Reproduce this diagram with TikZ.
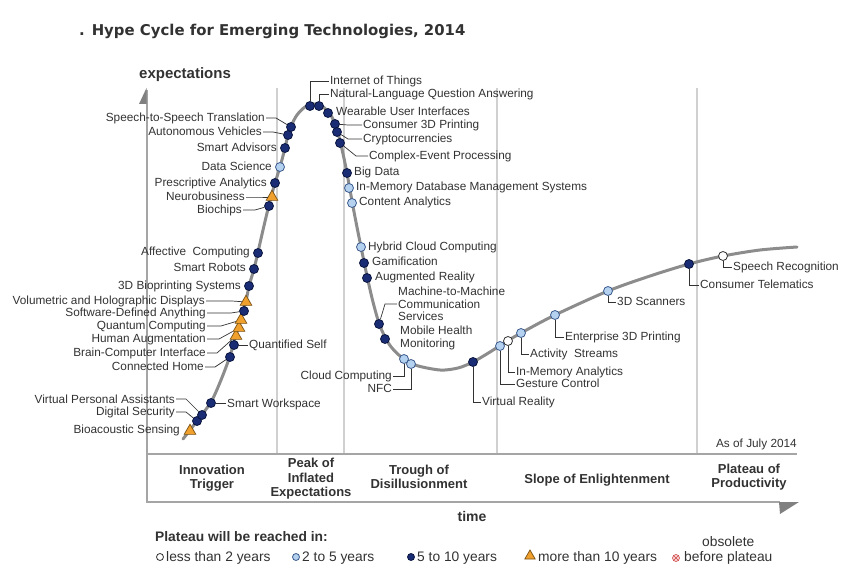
\documentclass[tikz,border=0pt]{standalone}
\usepackage{fontspec}
\setmainfont{Liberation Sans}
\newfontfamily\titlefont{DejaVu Sans}
\usepackage{tikz}
\usetikzlibrary{shapes.geometric}
\usepackage{xcolor}
\definecolor{navy}{RGB}{26,44,116}
\definecolor{navyrim}{RGB}{10,22,64}
\definecolor{sky}{RGB}{180,210,240}
\definecolor{skyrim}{RGB}{60,90,140}
\definecolor{amber}{RGB}{240,160,44}
\definecolor{amberrim}{RGB}{120,80,20}
\definecolor{rose}{RGB}{248,214,214}
\definecolor{roserim}{RGB}{208,70,70}
\definecolor{ink}{RGB}{50,50,50}
\definecolor{curvegrey}{RGB}{140,140,140}
\definecolor{axisgrey}{RGB}{165,165,165}
\definecolor{gridgrey}{RGB}{208,208,208}

\begin{document}
\begin{tikzpicture}[x=1pt, y=-1pt,
    tag/.style={text=ink, inner sep=1pt, font=\fontsize{11.8}{12.5}\selectfont},
    lbl/.style={tag, text height=9pt, text depth=1pt},
    leader/.style={draw=ink, line width=0.7pt},
    dot/.style={circle, inner sep=0pt, minimum size=9pt, line width=0.8pt},
    late/.style={dot, fill=navy, draw=navyrim},    % 5 to 10 years
    mid/.style={dot, fill=sky, draw=skyrim},       % 2 to 5 years
    soon/.style={dot, fill=white, draw=ink},       % less than 2 years
    far/.style={regular polygon, regular polygon sides=3, inner sep=0pt,
        minimum size=13.5pt, fill=amber, draw=amberrim, line width=0.7pt},
    gone/.style={dot, minimum size=7pt, fill=rose, draw=roserim, line width=0.6pt},
    phase/.style={text=ink, align=center, font=\bfseries\fontsize{13}{14.5}\selectfont},
    key/.style={text=ink, inner sep=1pt, anchor=west, font=\fontsize{13.8}{15}\selectfont},
    keyline/.style={key, text height=10.5pt, text depth=1pt}]
    \useasboundingbox (0,0) rectangle (860,585);

    % frame
    \foreach \x in {277,344,497,697}
        \draw[gridgrey, line width=1.2pt] (\x,88) -- (\x,454);
    \draw[axisgrey, line width=1.5pt] (147,90) -- (147,502) -- (780,502);
    \draw[axisgrey, line width=1.5pt] (147,454) -- (797,454);
    \fill[gray] (146.5,88) -- (146.5,104) -- (139,104) -- cycle;
    \fill[gray] (799,502) -- (779,502) -- (780,514) -- cycle;

    \node[anchor=base west, inner sep=0pt, text=ink,
        font=\titlefont\bfseries\fontsize{14.9}{18}\selectfont] (title) at (79,36)
        {. Hype Cycle for Emerging Technologies, 2014};
    \node[anchor=base west, inner sep=0pt, text=ink,
        font=\bfseries\fontsize{15}{18}\selectfont] (ylabel) at (139,79) {expectations};
    \node[anchor=base, inner sep=0pt, text=ink,
        font=\bfseries\fontsize{14}{16}\selectfont] (xlabel) at (472,521) {time};
    \node[lbl, anchor=east] (asof) at (798,443) {As of July 2014};

    % the hype curve
    \draw[curvegrey, line width=3pt, line cap=round] plot[smooth, tension=0.5] coordinates {
        (183,439) (197,421) (211,402) (221,380) (230,356) (236,335) (241,318)
        (246,301) (249,286) (254,269) (258,252) (263,230) (269,205) (275,183)
        (280,167) (285,148) (288,135) (291,126) (297,115) (305,107) (314,104)
        (322,106) (330,114) (336,126) (341,145) (346,168) (350,190) (355,217)
        (361,247) (367,276) (373,302) (380,326) (389,344) (400,356) (415,365)
        (440,370) (458,368) (473,362) (490,352) (504,343) (521,333) (555,315)
        (608,291) (650,276) (689,264) (723,256) (760,250) (797,247)};

    % innovation trigger
    \node[far] (bs) at (190,431) {};
    \node[lbl, anchor=east] (bs-l) at (181,430) {Bioacoustic Sensing};
    \node[late] (dsec) at (197,421) {};
    \node[lbl, anchor=east] (dsec-l) at (176,412) {Digital Security};
    \draw[leader] (dsec-l.east) -- ++(10,0) -- (dsec);
    \node[late] (vpa) at (202,415) {};
    \node[lbl, anchor=east] (vpa-l) at (176,399) {Virtual Personal Assistants};
    \draw[leader] (vpa-l.east) -- ++(10,0) -- (vpa);
    \node[late] (sw) at (211,403) {};
    \node[lbl, anchor=west] (sw-l) at (226,403) {Smart Workspace};
    \draw[leader] (sw) -- (sw-l.west);
    \node[late] (ch) at (230,357) {};
    \node[lbl, anchor=east] (ch-l) at (205,367) {Connected Home};
    \draw[leader] (ch-l.east) -- ++(10,0) -- (ch);
    \node[late] (qs) at (234,345) {};
    \node[lbl, anchor=west] (qs-l) at (248,345) {Quantified Self};
    \draw[leader] (qs) -- (qs-l.west);
    \node[far] (bci) at (236,336) {};
    \node[lbl, anchor=east] (bci-l) at (207,353) {Brain-Computer Interface};
    \draw[leader] (bci-l.east) -- ++(10,0) -- (bci);
    \node[far] (ha) at (239,328) {};
    \node[lbl, anchor=east] (ha-l) at (207,339) {Human Augmentation};
    \draw[leader] (ha-l.east) -- ++(12,0) -- (ha);
    \node[far] (qc) at (241,320) {};
    \node[lbl, anchor=east] (qc-l) at (207,326) {Quantum Computing};
    \draw[leader] (qc-l.east) -- ++(14,0) -- (qc);
    \node[late] (sda) at (244,311) {};
    \node[lbl, anchor=east] (sda-l) at (207,313) {Software-Defined Anything};
    \draw[leader] (sda-l.east) -- ++(24,0) -- (sda);
    \node[far] (vhd) at (246,302) {};
    \node[lbl, anchor=east] (vhd-l) at (206,301) {Volumetric and Holographic Displays};
    \draw[leader] (vhd-l.east) -- ++(26,0) -- (vhd);
    \node[late] (bp) at (249,286) {};
    \node[lbl, anchor=east] (bp-l) at (242,286) {3D Bioprinting Systems};
    \node[late] (sr) at (254,269) {};
    \node[lbl, anchor=east] (sr-l) at (247,268) {Smart Robots};
    \node[late] (ac) at (258,253) {};
    \node[lbl, anchor=east] (ac-l) at (251,252) {Affective~ Computing};
    \node[late] (bc) at (269,206) {};
    \node[lbl, anchor=east] (bc-l) at (243,210) {Biochips};
    \draw[leader] (bc-l.east) -- ++(12,0) -- (bc);
    \node[far] (nb) at (272,197) {};
    \node[lbl, anchor=east] (nb-l) at (246,197) {Neurobusiness};
    \draw[leader] (nb-l.east) -- ++(12,0) -- (nb);
    \node[late] (pa) at (275,183) {};
    \node[lbl, anchor=east] (pa-l) at (268,183) {Prescriptive Analytics};
    \node[mid] (ds) at (280,167) {};
    \node[lbl, anchor=east] (ds-l) at (273,167) {Data Science};
    \node[late] (sa) at (285,148) {};
    \node[lbl, anchor=east] (sa-l) at (278,148) {Smart Advisors};
    \node[late] (av) at (288,135) {};
    \node[lbl, anchor=east] (av-l) at (263,132) {Autonomous Vehicles};
    \draw[leader] (av-l.east) -- ++(10,0) -- (av);
    \node[late] (s2s) at (291,127) {};
    \node[lbl, anchor=east] (s2s-l) at (266,118) {Speech-to-Speech Translation};
    \draw[leader] (s2s-l.east) -- ++(10,0) -- (s2s);

    % peak and slide down
    \node[late] (iot) at (310,106) {};
    \node[lbl, anchor=west] (iot-l) at (329,81) {Internet of Things};
    \draw[leader] (iot) |- (iot-l.west);
    \node[late] (nlq) at (319,106) {};
    \node[lbl, anchor=west] (nlq-l) at (329,94) {Natural-Language Question Answering};
    \draw[leader] (nlq) |- (nlq-l.west);
    \node[late] (wui) at (328,113) {};
    \node[lbl, anchor=west] (wui-l) at (335,112) {Wearable User Interfaces};
    \node[late] (c3d) at (335,124) {};
    \node[lbl, anchor=west] (c3d-l) at (362,125) {Consumer 3D Printing};
    \draw[leader] (c3d-l.west) -- ++(-14,0) -- (c3d);
    \node[late] (cry) at (337,132) {};
    \node[lbl, anchor=west] (cry-l) at (362,139) {Cryptocurrencies};
    \draw[leader] (cry-l.west) -- ++(-14,0) -- (cry);
    \node[late] (cep) at (340,143) {};
    \node[lbl, anchor=west] (cep-l) at (368,156) {Complex-Event Processing};
    \draw[leader] (cep-l.west) -- ++(-12,0) -- (cep);
    \node[late] (bd) at (347,173) {};
    \node[lbl, anchor=west] (bd-l) at (353,172) {Big Data};
    \node[mid] (imd) at (349,188) {};
    \node[lbl, anchor=west] (imd-l) at (355,187) {In-Memory Database Management Systems};
    \node[mid] (ca) at (352,203) {};
    \node[lbl, anchor=west] (ca-l) at (358,202) {Content Analytics};
    \node[mid] (hcc) at (361,247) {};
    \node[lbl, anchor=west] (hcc-l) at (367,247) {Hybrid Cloud Computing};
    \node[late] (gam) at (364,263) {};
    \node[lbl, anchor=west] (gam-l) at (371,262) {Gamification};
    \node[late] (ar) at (367,278) {};
    \node[lbl, anchor=west] (ar-l) at (374,277) {Augmented Reality};
    \node[late] (m2m) at (379,324) {};
    \node[tag, anchor=west, align=left] (m2m-l) at (397,304) {Machine-to-Machine\\Communication\\Services};
    \draw[leader] (m2m-l.west) -- ++(-12,0) -- (m2m);
    \node[late] (mhm) at (385,339) {};
    \node[tag, anchor=west, align=left] (mhm-l) at (399,338) {Mobile Health\\Monitoring};

    % trough
    \node[mid] (cc) at (404,359) {};
    \node[lbl, anchor=east] (cc-l) at (393,376) {Cloud Computing};
    \draw[leader] (cc-l.east) -| (cc);
    \node[mid] (nfc) at (411,364) {};
    \node[lbl, anchor=east] (nfc-l) at (393,389) {NFC};
    \draw[leader] (nfc-l.east) -| (nfc);
    \node[late] (vr) at (473,362) {};
    \node[lbl, anchor=west] (vr-l) at (481,402) {Virtual Reality};
    \draw[leader] (vr) |- (vr-l.west);

    % slope and plateau
    \node[mid] (gc) at (500,346) {};
    \node[lbl, anchor=west] (gc-l) at (515,384) {Gesture Control};
    \draw[leader] (gc) |- (gc-l.west);
    \node[soon] (ima) at (508,341) {};
    \node[lbl, anchor=west] (ima-l) at (515,372) {In-Memory Analytics};
    \draw[leader] (ima) |- (ima-l.west);
    \node[mid] (as) at (521,333) {};
    \node[lbl, anchor=west] (as-l) at (529,354) {Activity~ Streams};
    \draw[leader] (as) |- (as-l.west);
    \node[mid] (e3d) at (555,315) {};
    \node[lbl, anchor=west] (e3d-l) at (564,337) {Enterprise 3D Printing};
    \draw[leader] (e3d) |- (e3d-l.west);
    \node[mid] (s3d) at (608,291) {};
    \node[lbl, anchor=west] (s3d-l) at (616,302) {3D Scanners};
    \draw[leader] (s3d) |- (s3d-l.west);
    \node[late] (ct) at (689,264) {};
    \node[lbl, anchor=west] (ct-l) at (699,285) {Consumer Telematics};
    \draw[leader] (ct) |- (ct-l.west);
    \node[soon] (spr) at (723,256) {};
    \node[lbl, anchor=west] (spr-l) at (732,267) {Speech Recognition};
    \draw[leader] (spr) |- (spr-l.west);

    % phases
    \node[phase] (trigger) at (212,478) {Innovation\\Trigger};
    \node[phase] (peak) at (311,479) {Peak of\\Inflated\\Expectations};
    \node[phase] (trough) at (419,477) {Trough of\\Disillusionment};
    \node[phase] (slope) at (597,480) {Slope of Enlightenment};
    \node[phase] (plateau) at (749,477) {Plateau of\\Productivity};

    % legend
    \node[anchor=base west, inner sep=0pt, text=ink,
        font=\bfseries\fontsize{13.8}{15}\selectfont] (keyhead) at (155,541) {Plateau will be reached in:};
    \node[soon, minimum size=7pt] (k1) at (160,557) {};
    \node[keyline] (k1-l) at (165,557) {less than 2 years};
    \node[mid, minimum size=7pt] (k2) at (296,557) {};
    \node[keyline] (k2-l) at (301,557) {2 to 5 years};
    \node[late, minimum size=7pt] (k3) at (411,557) {};
    \node[keyline] (k3-l) at (416,557) {5 to 10 years};
    \node[far, minimum size=12pt] (k4) at (530,556) {};
    \node[keyline] (k4-l) at (537,557) {more than 10 years};
    \node[gone] (k5) at (676,558) {};
    \draw[roserim, line width=0.6pt] (k5.north west) -- (k5.south east)
        (k5.north east) -- (k5.south west);
    \node[key, align=center] (k5-l) at (683,550) {obsolete\\before plateau};
\end{tikzpicture}
\end{document}
